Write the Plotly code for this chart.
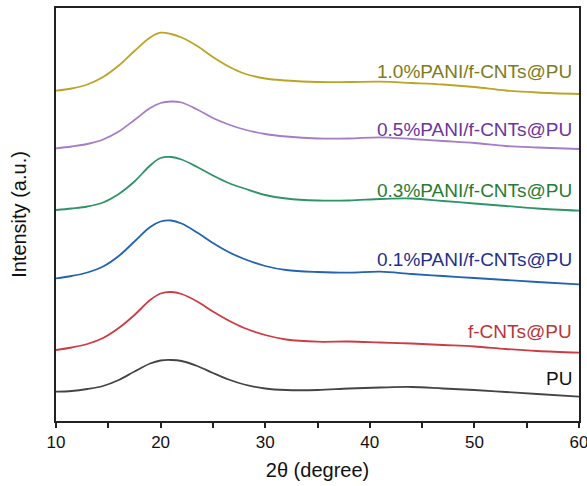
import plotly.graph_objects as go

two_theta = [10, 11.5, 13, 14.5, 16, 17.5, 19, 20, 21, 22, 23.5, 25, 26.5, 28, 30, 32, 35, 38, 41, 44, 47, 50, 53, 56, 60]

pu = [29.3, 30, 32, 35, 41, 49.5, 57.5, 60.5, 61, 60, 55, 48, 41.5, 36.5, 32.5, 31, 31, 32.5, 33.5, 34, 32.5, 31, 29, 27, 24.3]
fcnt = [71, 73.5, 77, 83, 93, 106, 121, 127.5, 129, 127, 119.5, 109.5, 100.5, 93, 86, 81.5, 79.3, 79.5, 78.5, 77.5, 76, 74.5, 72, 70, 68.3]
pani01 = [142.7, 145, 148.5, 154.5, 165, 179.5, 194, 199.5, 200.5, 197.5, 188.5, 178, 169, 162, 155, 151, 149, 148.3, 149.3, 147, 145, 143, 141, 139, 136.7]
pani03 = [211, 212.5, 214.5, 218.5, 227, 239.5, 255.5, 263, 264, 261.5, 254, 245.5, 238, 232.5, 226, 222.5, 220.5, 220.5, 222, 222.5, 220, 217.5, 215, 212.5, 210.3]
pani05 = [272.7, 274.5, 277, 281.5, 289.5, 301, 313, 318, 319.5, 318.5, 311.5, 303, 296.5, 291.5, 287, 284.5, 282.5, 282.5, 283.7, 282, 280, 278, 275, 273.5, 272]
pani10 = [330.3, 332.5, 336.5, 344, 355.5, 370, 383.5, 388.3, 387, 383.5, 375, 364, 354.5, 347.5, 342.5, 340.5, 339, 339, 339.3, 338, 336.5, 334, 330.5, 328.5, 327]

tick_vals = [10, 15, 20, 25, 30, 35, 40, 45, 50, 55, 60]
tick_text = ["10", "", "20", "", "30", "", "40", "", "50", "", "60"]

names = ["PU", "f-CNTs@PU", "0.1%PANI/f-CNTs@PU", "0.3%PANI/f-CNTs@PU", "0.5%PANI/f-CNTs@PU", "1.0%PANI/f-CNTs@PU"]
label_y = [43, 90, 162, 231, 292, 350]
series = [pu, fcnt, pani01, pani03, pani05, pani10]
line_colors = ["#454545", "#cc3c44", "#2463b0", "#2e9468", "#a57cc8", "#bba426"]
text_colors = ["#111111", "#b8353a", "#1f2f8c", "#2a7a30", "#6c35a0", "#7e7a20"]

font_family = "Arial, Liberation Sans, sans-serif"

fig = go.Figure()
for ys, c, n in zip(series, line_colors, names):
    fig.add_trace(go.Scatter(x=two_theta, y=ys, mode="lines", name=n,
                             line=dict(color=c, width=1.8, shape="spline", smoothing=1.0)))

for n, yv, tc in zip(names, label_y, text_colors):
    fig.add_annotation(x=59.55, y=yv, text=n, showarrow=False, xanchor="right",
                       yanchor="middle", font=dict(size=19, color=tc, family=font_family))

fig.update_layout(
    width=587, height=486,
    margin=dict(l=56, r=8, t=8, b=65),
    paper_bgcolor="white", plot_bgcolor="white",
    showlegend=False,
    font=dict(family=font_family, color="#111111"),
)
fig.update_xaxes(range=[10, 60], tickmode="array", tickvals=tick_vals, ticktext=tick_text,
                 ticks="outside", ticklen=5, tickwidth=1.5,
                 tickcolor="#222222", showline=True, linecolor="#222222", linewidth=1.5,
                 mirror=True, showgrid=False, zeroline=False, automargin=False,
                 ticklabeloverflow="allow",
                 tickfont=dict(size=17, family=font_family, color="#111111"),
                 title=dict(text="2θ (degree)", font=dict(size=20, family=font_family, color="#111111"),
                            standoff=12))
fig.update_yaxes(range=[0, 413], showticklabels=False, ticks="", showline=True,
                 linecolor="#222222", linewidth=1.5, mirror=True, showgrid=False, zeroline=False,
                 automargin=False,
                 title=dict(text="Intensity (a.u.)", font=dict(size=20, family=font_family, color="#111111"),
                            standoff=22))

fig.write_html("out.html", config={"displayModeBar": False},
               post_script="document.body.style.margin='0';document.body.style.overflow='hidden';")
